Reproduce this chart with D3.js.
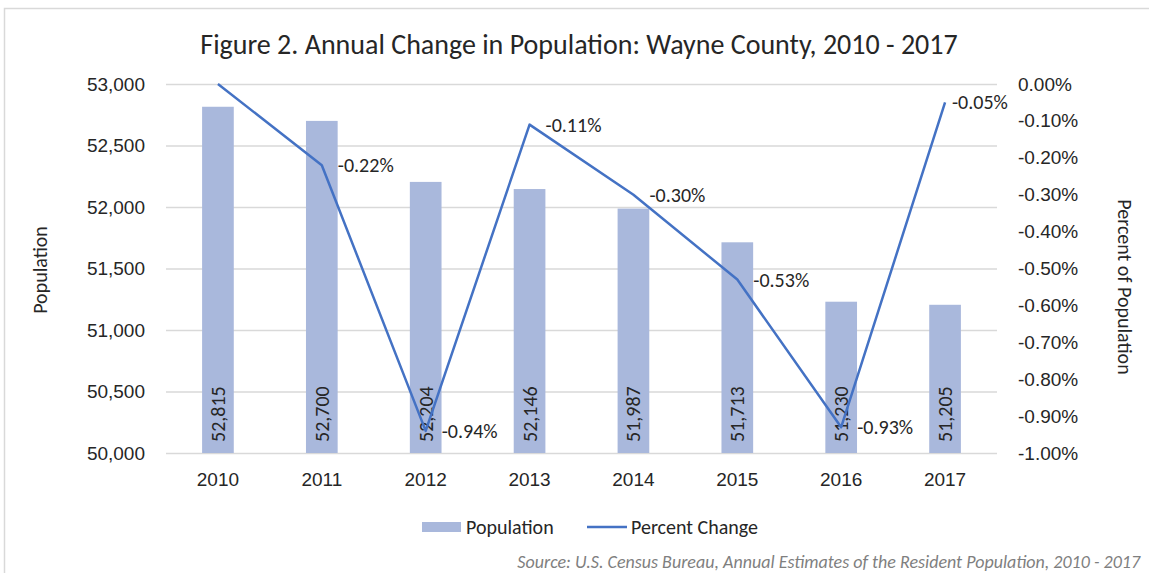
<!DOCTYPE html>
<html>
<head>
<meta charset="utf-8">
<script src="https://cdn.jsdelivr.net/npm/d3@7"></script>
<style>
  body { margin: 0; background: #fff; }
  svg { display: block; font-family: Carlito, Calibri, Lato, sans-serif; }
</style>
</head>
<body>
<div class="chart"></div>
<script>
// Data
const years = ["2010", "2011", "2012", "2013", "2014", "2015", "2016", "2017"];
const population = [52815, 52700, 52204, 52146, 51987, 51713, 51230, 51205];
const percentChange = [0, -0.22, -0.94, -0.11, -0.30, -0.53, -0.93, -0.05];
const popTicks = [50000, 50500, 51000, 51500, 52000, 52500, 53000];
const pctTicks = [0, -0.1, -0.2, -0.3, -0.4, -0.5, -0.6, -0.7, -0.8, -0.9, -1.0];

const width = 1149;
const height = 573;
const margin = { left: 166, right: 152, top: 84, bottom: 120 };

const textColor = "#262626";
const barColor = "#A9B8DC";
const lineColor = "#4472C4";

// Excel-style percent with a plain hyphen for the minus sign
const fmtPct = (v) => d3.format(".2f")(v).replace("\u2212", "-") + "%";

const svg = d3.select(".chart")
    .append("svg")
    .attr("width", width)
    .attr("height", height);

// chart frame
svg.append("rect")
    .attr("x", 4.5).attr("y", 8.5)
    .attr("width", width + 20).attr("height", height + 20)
    .attr("fill", "none")
    .attr("stroke", "#D9D9D9")
    .attr("stroke-width", 1.5);

// Scales
const x_scale = d3.scaleBand()
    .domain(years)
    .range([margin.left, width - margin.right])
    .padding(0);

const y_pop = d3.scaleLinear()
    .domain([50000, 53000])
    .range([height - margin.bottom, margin.top]);

const y_pct = d3.scaleLinear()
    .domain([-1.0, 0])
    .range([height - margin.bottom, margin.top]);

const barWidth = x_scale.bandwidth() * 0.305;
const cx = (d) => x_scale(d) + x_scale.bandwidth() / 2;

// Title
svg.append("text")
    .attr("x", 579)
    .attr("y", 54)
    .attr("text-anchor", "middle")
    .attr("fill", textColor)
    .attr("font-size", 28)
    .text("Figure 2. Annual Change in Population: Wayne County, 2010 - 2017");

// Gridlines + left axis
svg.append("g")
    .attr("transform", `translate(${margin.left}, 0)`)
    .call(d3.axisLeft(y_pop)
        .tickValues(popTicks)
        .tickFormat(d3.format(","))
        .tickSize(-(width - margin.left - margin.right))
        .tickPadding(21))
    .call((g) => g.select(".domain").remove())
    .call((g) => g.selectAll(".tick line").attr("stroke", "#D9D9D9").attr("stroke-width", 1.5))
    .call((g) => g.selectAll(".tick text")
        .attr("font-size", 19)
        .attr("fill", textColor)
        .attr("font-family", null));

// Right axis
svg.append("g")
    .attr("transform", `translate(${width - margin.right}, 0)`)
    .call(d3.axisRight(y_pct)
        .tickValues(pctTicks)
        .tickFormat(fmtPct)
        .tickSize(0)
        .tickPadding(21))
    .call((g) => g.select(".domain").remove())
    .call((g) => g.selectAll(".tick text")
        .attr("font-size", 19)
        .attr("fill", textColor)
        .attr("font-family", null));

// Bars
svg.append("g")
    .selectAll("rect")
    .data(years)
    .join("rect")
        .attr("fill", barColor)
        .attr("x", (d) => cx(d) - barWidth / 2)
        .attr("y", (d, i) => y_pop(population[i]))
        .attr("width", barWidth)
        .attr("height", (d, i) => y_pop(50000) - y_pop(population[i]));

// Bar value labels (rotated, inside base)
svg.append("g")
    .selectAll("text")
    .data(years)
    .join("text")
        .attr("transform", (d) => `translate(${cx(d)}, ${y_pop(50000) - 11}) rotate(-90)`)
        .attr("dy", "0.35em")
        .attr("font-size", 20)
        .attr("fill", textColor)
        .text((d, i) => d3.format(",")(population[i]));

// Percent change line
const line = d3.line()
    .x((d) => cx(d))
    .y((d, i) => y_pct(percentChange[i]));

svg.append("path")
    .datum(years)
    .attr("fill", "none")
    .attr("stroke", lineColor)
    .attr("stroke-width", 2.5)
    .attr("stroke-linejoin", "round")
    .attr("d", line);

// Percent labels to the right of each point
svg.append("g")
    .selectAll("text")
    .data(years.filter((d, i) => percentChange[i] !== 0))
    .join("text")
        .attr("x", (d) => Math.min(cx(d) + 16, 952))
        .attr("y", (d) => y_pct(percentChange[years.indexOf(d)]))
        .attr("dy", "0.35em")
        .attr("font-size", 20)
        .attr("fill", textColor)
        .text((d) => fmtPct(percentChange[years.indexOf(d)]));

// X axis labels
svg.append("g")
    .attr("transform", `translate(0, ${height - margin.bottom})`)
    .call(d3.axisBottom(x_scale).tickSize(0).tickPadding(20))
    .call((g) => g.select(".domain").remove())
    .call((g) => g.selectAll(".tick text")
        .attr("font-size", 19)
        .attr("fill", textColor)
        .attr("font-family", null));

// Axis titles
svg.append("text")
    .attr("transform", `translate(40, 270) rotate(-90)`)
    .attr("text-anchor", "middle")
    .attr("dy", "0.35em")
    .attr("font-size", 20)
    .attr("fill", textColor)
    .text("Population");

svg.append("text")
    .attr("transform", `translate(1125, 287) rotate(90)`)
    .attr("text-anchor", "middle")
    .attr("dy", "0.35em")
    .attr("font-size", 20)
    .attr("fill", textColor)
    .text("Percent of Population");

// Legend
const legend = svg.append("g").attr("transform", "translate(0, 527)");
legend.append("rect")
    .attr("x", 422).attr("y", -5)
    .attr("width", 39).attr("height", 10)
    .attr("fill", barColor);
legend.append("text")
    .attr("x", 466).attr("dy", "0.35em")
    .attr("font-size", 20).attr("fill", textColor)
    .text("Population");
legend.append("line")
    .attr("x1", 587).attr("x2", 627)
    .attr("stroke", lineColor).attr("stroke-width", 2.5);
legend.append("text")
    .attr("x", 631).attr("dy", "0.35em")
    .attr("font-size", 20).attr("fill", textColor)
    .text("Percent Change");

// Source note
svg.append("text")
    .attr("x", 1140).attr("y", 568)
    .attr("text-anchor", "end")
    .attr("font-size", 18)
    .attr("font-style", "italic")
    .attr("fill", "#7F7F7F")
    .text("Source: U.S. Census Bureau, Annual Estimates of the Resident Population, 2010 - 2017");
</script>
</body>
</html>
